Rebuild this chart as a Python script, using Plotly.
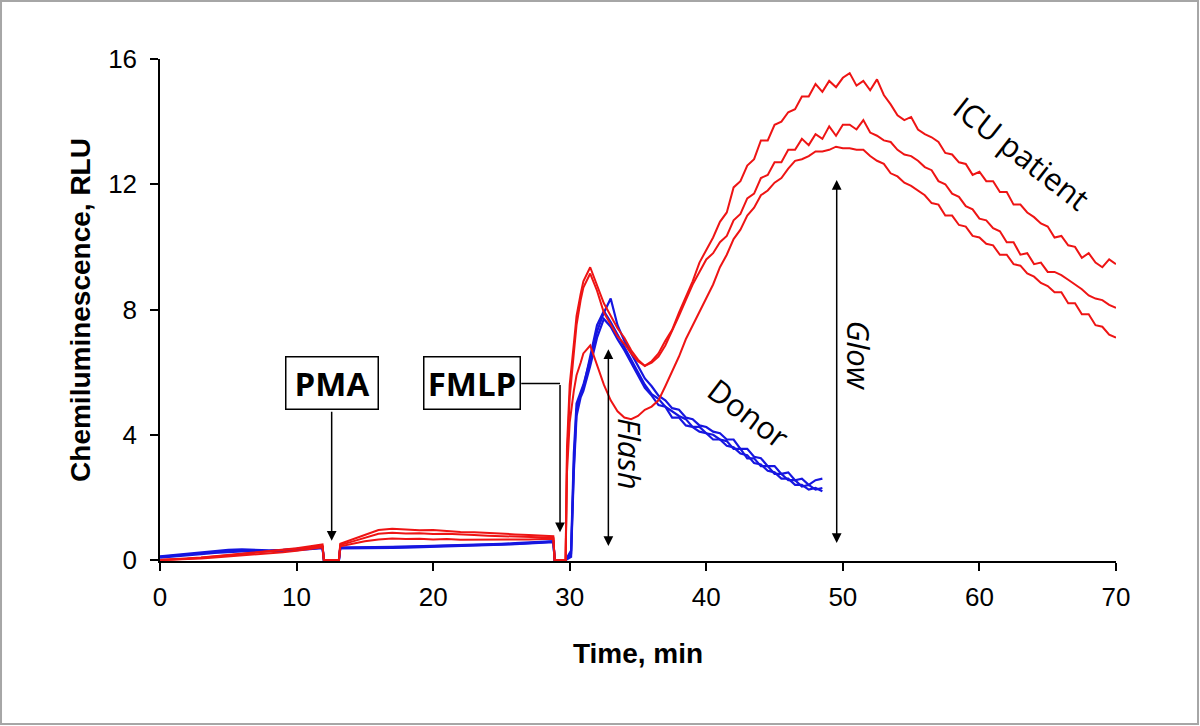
import plotly.graph_objects as go

# ---------------- data ----------------
# shared time grid for the baseline / PMA phase (min)
T_PRE = [0, 1, 2, 3, 4, 5, 6, 7, 8, 9, 10, 11, 11.9, 12.0, 13.1, 13.2,
         14, 15, 16, 17, 18, 19, 20, 21, 22, 23, 24, 25, 26, 27, 28,
         28.8, 28.9, 29.7]

RED1_PRE = [0.00, 0.02, 0.05, 0.08, 0.12, 0.16, 0.20, 0.24, 0.28, 0.33, 0.38, 0.44, 0.50, 0, 0, 0.52,
            0.64, 0.80, 0.96, 1.00, 0.98, 0.95, 0.96, 0.92, 0.90, 0.89, 0.86, 0.84, 0.82, 0.80, 0.78,
            0.76, 0, 0]
RED2_PRE = [0.00, 0.01, 0.04, 0.07, 0.11, 0.15, 0.18, 0.22, 0.26, 0.30, 0.35, 0.40, 0.45, 0, 0, 0.48,
            0.58, 0.70, 0.84, 0.87, 0.85, 0.86, 0.83, 0.84, 0.81, 0.80, 0.78, 0.77, 0.76, 0.74, 0.73,
            0.71, 0, 0]
RED3_PRE = [0.00, 0.01, 0.03, 0.05, 0.08, 0.11, 0.14, 0.17, 0.21, 0.25, 0.30, 0.35, 0.41, 0, 0, 0.44,
            0.52, 0.60, 0.66, 0.69, 0.67, 0.68, 0.66, 0.67, 0.65, 0.65, 0.64, 0.64, 0.65, 0.66, 0.67,
            0.68, 0, 0]
BLUE1_PRE = [0.12, 0.16, 0.21, 0.26, 0.30, 0.33, 0.34, 0.32, 0.31, 0.33, 0.36, 0.39, 0.42, 0, 0, 0.40,
             0.40, 0.41, 0.42, 0.42, 0.43, 0.44, 0.45, 0.46, 0.47, 0.48, 0.50, 0.52, 0.54, 0.56, 0.58,
             0.60, 0, 0]
BLUE2_PRE = [0.10, 0.14, 0.18, 0.22, 0.26, 0.29, 0.31, 0.30, 0.29, 0.31, 0.34, 0.37, 0.40, 0, 0, 0.37,
             0.37, 0.38, 0.38, 0.39, 0.40, 0.41, 0.42, 0.43, 0.44, 0.46, 0.47, 0.49, 0.51, 0.53, 0.55,
             0.57, 0, 0]
BLUE3_PRE = [0.08, 0.11, 0.15, 0.19, 0.23, 0.26, 0.28, 0.28, 0.28, 0.29, 0.32, 0.35, 0.38, 0, 0, 0.39,
             0.39, 0.40, 0.41, 0.41, 0.42, 0.43, 0.43, 0.44, 0.45, 0.46, 0.48, 0.50, 0.52, 0.54, 0.56,
             0.59, 0, 0]

# time grid after FMLP, ICU patient (red) traces
T_RED = [29.8, 30.0, 30.3, 30.5, 30.8,
         31.0, 31.5, 32.0, 32.5, 33.0, 33.5, 34.0, 34.5, 35.0, 35.5,
         36.0, 36.5, 37.0, 37.5, 38.0, 38.5, 39.0, 39.5, 40.0, 40.5,
         41.0, 41.5, 42.0, 42.5, 43.0, 43.5, 44.0, 44.5, 45.0, 45.5,
         46.0, 46.5, 47.0, 47.5, 48.0, 48.5, 49.0, 49.5, 50.0, 50.5,
         51.0, 51.5, 52.0, 52.5, 53.0, 53.5, 54.0, 54.5, 55.0, 55.5,
         56.0, 56.5, 57.0, 57.5, 58.0, 58.5, 59.0, 59.5, 60.0, 60.5,
         61.0, 61.5, 62.0, 62.5, 63.0, 63.5, 64.0, 64.5, 65.0, 65.5,
         66.0, 66.5, 67.0, 67.5, 68.0, 68.5, 69.0, 69.5, 70.0]

RED1_POST = [3.6, 5.6, 6.9, 7.8, 8.5,
             8.9, 9.35, 8.8, 8.2, 7.8, 7.4, 7.1, 6.7, 6.4, 6.2,
             6.35, 6.6, 7.0, 7.35, 7.9, 8.4, 8.9, 9.5, 9.9, 10.3,
             10.8, 11.1, 11.9, 12.1, 12.6, 12.8, 13.4, 13.4, 13.9, 14.0,
             14.3, 14.4, 14.8, 14.8, 15.2, 14.95, 15.3, 15.1, 15.4, 15.55,
             15.15, 15.3, 15.0, 15.35, 14.85, 14.55, 14.2, 14.05, 14.15, 13.75,
             13.6, 13.5, 13.35, 13.0, 12.95, 12.7, 12.65, 12.3, 12.4, 12.1,
             12.1, 11.75, 11.75, 11.35, 11.35, 11.1, 10.95, 10.75, 10.65, 10.3,
             10.35, 10.05, 10.0, 9.65, 9.8, 9.5, 9.35, 9.6, 9.45]
RED2_POST = [3.2, 5.2, 6.6, 7.5, 8.3,
             8.7, 9.15, 8.6, 7.9, 7.5, 7.15, 6.9, 6.6, 6.35, 6.2,
             6.3, 6.5, 6.85, 7.3, 7.8, 8.3, 8.8, 9.2, 9.6, 9.8,
             10.15, 10.35, 10.85, 11.05, 11.55, 11.7, 12.2, 12.3, 12.7, 12.7,
             13.1, 13.1, 13.45, 13.25, 13.6, 13.45, 13.85, 13.55, 13.9, 13.9,
             13.75, 14.05, 13.65, 13.55, 13.4, 13.35, 13.1, 12.95, 12.9, 12.75,
             12.55, 12.45, 12.1, 12.0, 11.7, 11.6, 11.3, 11.2, 10.9, 10.85,
             10.6, 10.5, 10.15, 10.15, 9.75, 9.8, 9.45, 9.5, 9.2, 9.2,
             9.1, 8.95, 8.8, 8.65, 8.45, 8.35, 8.3, 8.15, 8.05]
RED3_POST = [2.8, 4.4, 5.4, 5.9, 6.3,
             6.6, 6.85, 6.2, 5.6, 5.1, 4.75, 4.55, 4.5, 4.6, 4.8,
             4.9, 5.1, 5.55, 6.0, 6.5, 7.05, 7.5, 7.95, 8.35, 8.8,
             9.35, 9.75, 10.25, 10.55, 11.0, 11.25, 11.65, 11.8, 12.05, 12.2,
             12.5, 12.75, 12.8, 12.9, 13.05, 13.05, 13.1, 13.2, 13.15, 13.15,
             13.1, 13.1, 12.9, 12.75, 12.65, 12.35, 12.25, 12.05, 11.95, 11.8,
             11.65, 11.4, 11.35, 11.0, 11.0, 10.7, 10.65, 10.35, 10.3, 10.1,
             10.05, 9.75, 9.75, 9.45, 9.4, 9.15, 9.05, 8.85, 8.75, 8.55,
             8.55, 8.2, 8.2, 7.85, 7.85, 7.5, 7.45, 7.2, 7.1]

# time grid after FMLP, donor (blue) traces
T_BLUE = [30.1, 30.3, 30.5, 30.8,
          31.0, 31.5, 32.0, 32.5, 33.0, 33.5, 34.0, 34.5, 35.0, 35.5,
          36.0, 36.5, 37.0, 37.5, 38.0, 38.5, 39.0, 39.5, 40.0, 40.5,
          41.0, 41.5, 42.0, 42.5, 43.0, 43.5, 44.0, 44.5, 45.0, 45.5,
          46.0, 46.5, 47.0, 47.5, 48.0, 48.5]

BLUE1_POST = [0.3, 3.4, 5.0, 5.4,
              5.6, 6.4, 7.3, 7.9, 8.35, 7.5, 7.0, 6.6, 6.2, 5.8,
              5.55, 5.25, 5.1, 4.85, 4.8, 4.55, 4.5, 4.3, 4.25, 4.1,
              4.05, 3.85, 3.85, 3.55, 3.55, 3.3, 3.25, 3.0, 3.0, 2.75,
              2.8, 2.55, 2.6, 2.4, 2.55, 2.6]
BLUE2_POST = [0.2, 3.0, 4.8, 5.3,
              5.5, 6.5, 7.5, 7.95, 7.6, 7.2, 6.8, 6.4, 6.0, 5.6,
              5.3, 5.15, 4.9, 4.75, 4.6, 4.5, 4.25, 4.25, 4.05, 4.0,
              3.85, 3.8, 3.55, 3.55, 3.25, 3.25, 3.0, 3.0, 2.75, 2.75,
              2.55, 2.55, 2.35, 2.4, 2.25, 2.3]
BLUE3_POST = [0.1, 2.8, 4.6, 5.2,
              5.4, 6.2, 7.1, 7.7, 7.45, 7.05, 6.7, 6.3, 5.9, 5.5,
              5.25, 4.95, 4.9, 4.55, 4.55, 4.3, 4.25, 4.1, 4.05, 3.85,
              3.85, 3.65, 3.6, 3.4, 3.35, 3.1, 3.05, 2.85, 2.8, 2.6,
              2.6, 2.4, 2.4, 2.25, 2.3, 2.2]

X_TICKS = [0, 10, 20, 30, 40, 50, 60, 70]
Y_TICKS = [0, 4, 8, 12, 16]

RED = "#ee1414"
BLUE = "#1616e0"

# ---------------- figure ----------------
fig = go.Figure()

blue_series = [(BLUE1_PRE, BLUE1_POST), (BLUE2_PRE, BLUE2_POST), (BLUE3_PRE, BLUE3_POST)]
red_series = [(RED1_PRE, RED1_POST), (RED2_PRE, RED2_POST), (RED3_PRE, RED3_POST)]

for pre, post in blue_series:
    fig.add_trace(go.Scatter(x=T_PRE + T_BLUE, y=pre + post, mode="lines",
                             line=dict(color=BLUE, width=2.2), showlegend=False))
for pre, post in red_series:
    fig.add_trace(go.Scatter(x=T_PRE + T_RED, y=pre + post, mode="lines",
                             line=dict(color=RED, width=2), showlegend=False))

BOX_FONT = dict(family="Open Sans", size=33, color="black")
TXT_FONT = dict(family="Open Sans", size=31, color="black")

annotations = [
    # PMA box and arrow
    dict(x=12.63, y=5.64, text="<b>PMA</b>", showarrow=False, font=BOX_FONT,
         bordercolor="black", borderwidth=1.5, bgcolor="white", width=91, height=51, borderpad=0),
    dict(x=12.57, y=0.62, ax=12.57, ay=4.78, axref="x", ayref="y", text="", showarrow=True,
         arrowhead=2, arrowsize=1.3, arrowwidth=1.5, arrowcolor="black"),
    # FMLP box and arrow
    dict(x=22.85, y=5.64, text="<b>FMLP</b>", showarrow=False, font=BOX_FONT,
         bordercolor="black", borderwidth=1.5, bgcolor="white", width=95, height=51, borderpad=0),
    dict(x=29.29, y=0.89, ax=29.29, ay=5.64, axref="x", ayref="y", text="", showarrow=True,
         arrowhead=2, arrowsize=1.3, arrowwidth=1.5, arrowcolor="black"),
    # Flash double arrow
    dict(x=32.83, y=6.73, ax=32.83, ay=0.4, axref="x", ayref="y", text="", showarrow=True,
         arrowhead=2, startarrowhead=2, arrowside="end+start", arrowsize=1.3, startarrowsize=1.3,
         arrowwidth=1.5, arrowcolor="black"),
    dict(x=34.45, y=3.4, text="<i>Flash</i>", showarrow=False, textangle=90, font=TXT_FONT),
    # Glow double arrow
    dict(x=49.55, y=12.14, ax=49.55, ay=0.5, axref="x", ayref="y", text="", showarrow=True,
         arrowhead=2, startarrowhead=2, arrowside="end+start", arrowsize=1.3, startarrowsize=1.3,
         arrowwidth=1.5, arrowcolor="black"),
    dict(x=51.15, y=6.55, text="<i>Glow</i>", showarrow=False, textangle=90, font=TXT_FONT),
    # group labels
    dict(x=43.1, y=4.7, text="Donor", showarrow=False, textangle=37, font=TXT_FONT),
    dict(x=63.1, y=13.0, text="ICU patient", showarrow=False, textangle=38, font=TXT_FONT),
]

shapes = [
    # FMLP connector (horizontal part)
    dict(type="line", xref="x", yref="y", x0=26.45, x1=29.29, y0=5.64, y1=5.64,
         line=dict(color="black", width=1.5)),
    # outer grey frame
    dict(type="rect", xref="paper", yref="paper", x0=-0.1663, x1=1.0858, y0=-0.3247, y1=1.1155,
         line=dict(color="#a6a6a6", width=2), layer="below"),
]

AX_FONT = dict(family="Liberation Sans, Arial", size=26, color="black")
TITLE_FONT = dict(family="Liberation Sans, Arial", size=28, color="black")

fig.update_layout(
    width=1200, height=726,
    margin=dict(l=160, r=84, t=59, b=165),
    plot_bgcolor="white", paper_bgcolor="white",
    annotations=annotations, shapes=shapes,
    xaxis=dict(range=[0, 70], tickvals=X_TICKS, ticks="outside", ticklen=8, tickwidth=1.5,
               tickcolor="black", showline=True, linecolor="black", linewidth=1.5,
               showgrid=False, zeroline=False, tickfont=AX_FONT, layer="below traces",
               ticklabelstandoff=4,
               title=dict(text="<b>Time, min</b>", font=TITLE_FONT, standoff=32)),
    yaxis=dict(range=[-0.03, 16], tickvals=Y_TICKS, ticks="outside", ticklen=8, tickwidth=1.5,
               tickcolor="black", showline=True, linecolor="black", linewidth=1.5,
               showgrid=False, zeroline=False, tickfont=AX_FONT, layer="below traces",
               ticklabelstandoff=8,
               title=dict(text="<b>Chemiluminescence, RLU</b>", font=TITLE_FONT, standoff=9)),
)

fig.write_html("out.html", config={"displayModeBar": False},
               post_script="document.body.style.margin='0px';document.body.style.overflow='hidden';")
